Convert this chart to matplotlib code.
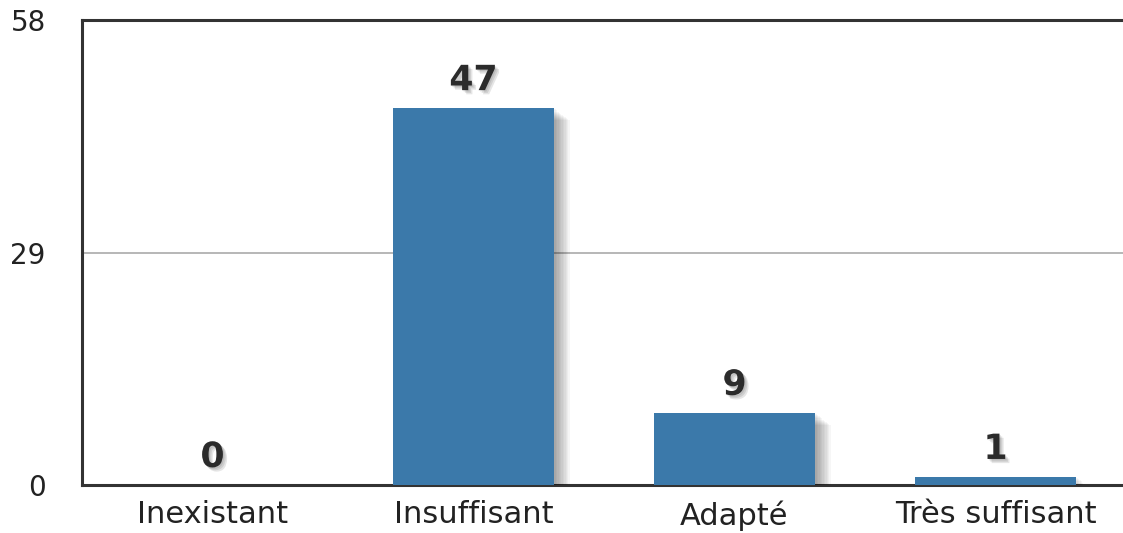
import matplotlib
matplotlib.use("Agg")
import matplotlib.pyplot as plt
import matplotlib.patheffects as pe

categories = ["Inexistant", "Insuffisant", "Adapté", "Très suffisant"]
counts = [0, 47, 9, 1]
y_ticks = [0, 29, 58]

BAR_COLOR = "#3b79aa"
FRAME_COLOR = "#333333"

plt.rcParams["font.family"] = ["DejaVu Sans"]

fig = plt.figure(figsize=(11.23, 5.33), dpi=100)
ax = fig.add_axes([0.073, 0.09, 0.9297, 0.8725])

# soft shadow: stack many offset, faint copies under each bar
shadow = [pe.SimplePatchShadow(offset=(d, -d * 0.8), shadow_rgbFace="black", alpha=0.035)
          for d in range(1, 12)]
ax.bar(range(len(categories)), counts, width=0.62, color=BAR_COLOR, zorder=3,
       path_effects=shadow + [pe.Normal()])

txt_shadow = [pe.SimplePatchShadow(offset=(d, -d), alpha=0.1) for d in (1, 2, 3)]
for i, v in enumerate(counts):
    ax.annotate(str(v), (i, v), xytext=(0, 13), textcoords="offset points",
                ha="center", va="baseline", fontsize=25, fontweight="bold",
                color="#2b2b2b", zorder=4, path_effects=txt_shadow + [pe.Normal()])

ax.set_xlim(-0.5, len(categories) - 0.5)
ax.set_ylim(0, y_ticks[-1])
ax.set_yticks(y_ticks)
ax.set_yticklabels([str(t) for t in y_ticks], fontsize=20, color="#222222")
ax.set_xticks(range(len(categories)))
ax.set_xticklabels(categories, fontsize=22, color="#222222")
ax.tick_params(axis="both", length=0)
ax.tick_params(axis="y", pad=26)
ax.tick_params(axis="x", pad=11)

ax.axhline(y_ticks[1], color="#aaaaaa", linewidth=1.2, zorder=1)

for side in ("left", "top", "bottom"):
    ax.spines[side].set_color(FRAME_COLOR)
    ax.spines[side].set_linewidth(2.2)
ax.spines["right"].set_visible(False)

fig.savefig("out.png", dpi=100)
